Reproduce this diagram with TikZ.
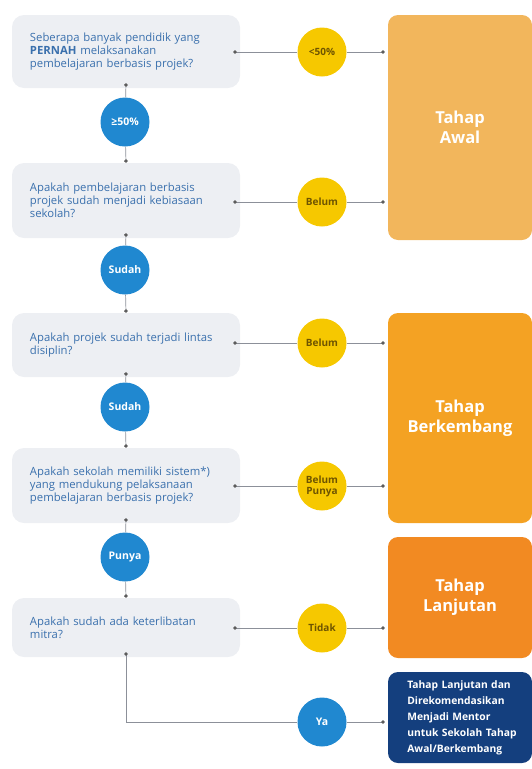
\documentclass[tikz,border=0pt]{standalone}
\usepackage{fontspec}
\setmainfont{Open Sans}
\usepackage{xcolor}
\usetikzlibrary{arrows.meta}

\definecolor{soalisi}{HTML}{EDEFF3}
\definecolor{soalteks}{HTML}{3A70AD}
\definecolor{biru}{HTML}{2088D0}
\definecolor{kuning}{HTML}{F6C800}
\definecolor{kuningteks}{HTML}{6E5400}
\definecolor{awal}{HTML}{F2B65C}
\definecolor{kembang}{HTML}{F4A223}
\definecolor{lanjut}{HTML}{F28A22}
\definecolor{mentor}{HTML}{143F7E}
\definecolor{garis}{HTML}{8C9099}

\begin{document}
\begin{tikzpicture}[x=1pt,y=-1pt,
  soal/.style={fill=soalisi, rounded corners=12pt, text=soalteks, align=left,
    text width=192pt, inner xsep=18pt, minimum width=228pt,
    font=\fontsize{11.3}{12.8}\selectfont},
  bulatbiru/.style={circle, fill=biru, minimum size=49pt, inner sep=0pt,
    text=white, font=\fontsize{10.5}{12}\selectfont\bfseries},
  bulatkuning/.style={circle, fill=kuning, minimum size=49pt, inner sep=0pt,
    text=kuningteks, align=center, font=\fontsize{10}{11}\selectfont\bfseries},
  tahap/.style={rounded corners=10pt, minimum width=144pt, text=white, align=center,
    font=\fontsize{16.5}{20}\selectfont\bfseries},
  lanjutalur/.style={draw=garis, line width=0.7pt, {Circle[length=3.5pt,color=black!65]}-},
  masukalur/.style={draw=garis, line width=0.7pt, -{Circle[length=3.5pt,color=black!65]}}]
\useasboundingbox (0,0) rectangle (532,769);

% pertanyaan
\node[soal, minimum height=73pt] (s1) at (126,51.5) {Seberapa banyak pendidik yang\\ \textbf{PERNAH} melaksanakan\\ pembelajaran berbasis projek?};
\node[soal, minimum height=75pt] (s2) at (126,200.5) {Apakah pembelajaran berbasis\\ projek sudah menjadi kebiasaan\\ sekolah?};
\node[soal, minimum height=64pt] (s3) at (126,345) {Apakah projek sudah terjadi lintas\\ disiplin?};
\node[soal, minimum height=75pt] (s4) at (126,485.5) {Apakah sekolah memiliki sistem*)\\ yang mendukung pelaksanaan\\ pembelajaran berbasis projek?};
\node[soal, minimum height=59pt] (s5) at (126,627.5) {Apakah sudah ada keterlibatan\\ mitra?};

% tahap
\node[tahap, fill=awal, minimum height=225pt] (awal) at (460,127.5) {Tahap\\ Awal};
\node[tahap, fill=kembang, minimum height=210pt] (kembang) at (460,418) {Tahap\\ Berkembang};
\node[tahap, fill=lanjut, minimum height=121pt] (lanjut) at (460,597.5) {Tahap\\ Lanjutan};
\node[tahap, fill=mentor, minimum height=91pt] (mentor) at (460,717.5) {};
\node[anchor=west, align=left, text=white, text width=118pt,
  font=\fontsize{10.3}{16}\selectfont\bfseries] (mentorteks) at ([xshift=16pt]mentor.west)
  {Tahap Lanjutan dan\\ Direkomendasikan\\ Menjadi Mentor\\ untuk Sekolah Tahap\\ Awal/Berkembang};

% jawaban
\node[bulatbiru] (b1) at (125,122) {≥50\%};
\node[bulatbiru] (b2) at (125,270) {Sudah};
\node[bulatbiru] (b3) at (125,407) {Sudah};
\node[bulatbiru] (b4) at (125,557) {Punya};
\node[bulatbiru] (ya) at (322,722) {Ya};

\node[bulatkuning] (k1) at (322,52) {<50\%};
\node[bulatkuning] (k2) at (322,202) {Belum};
\node[bulatkuning] (k3) at (322,343) {Belum};
\node[bulatkuning] (k4) at (322,486) {Belum\\ Punya};
\node[bulatkuning] (k5) at (322,628) {Tidak};

% alur ke bawah
\draw[lanjutalur] ([yshift=5pt]s1.south) -- (b1);
\draw[masukalur] (b1) -- (s2.north);
\draw[lanjutalur] ([yshift=5pt]s2.south) -- (b2);
\draw[masukalur] (b2) -- (s3.north);
\draw[lanjutalur] ([yshift=5pt]s3.south) -- (b3);
\draw[masukalur] (b3) -- (s4.north);
\draw[lanjutalur] ([yshift=5pt]s4.south) -- (b4);
\draw[masukalur] (b4) -- (s5.north);
\draw[lanjutalur] ([yshift=5pt]s5.south) |- (ya);
\draw[masukalur, shorten >=3pt] (ya) -- (mentor.west |- ya);

% alur ke kanan
\draw[lanjutalur] ([xshift=-7pt]s1.east |- k1) -- (k1);
\draw[masukalur, shorten >=3pt] (k1) -- (awal.west |- k1);
\draw[lanjutalur] ([xshift=-7pt]s2.east |- k2) -- (k2);
\draw[masukalur, shorten >=3pt] (k2) -- (awal.west |- k2);
\draw[lanjutalur] ([xshift=-7pt]s3.east |- k3) -- (k3);
\draw[masukalur, shorten >=3pt] (k3) -- (kembang.west |- k3);
\draw[lanjutalur] ([xshift=-7pt]s4.east |- k4) -- (k4);
\draw[masukalur, shorten >=3pt] (k4) -- (kembang.west |- k4);
\draw[lanjutalur] ([xshift=-7pt]s5.east |- k5) -- (k5);
\draw[masukalur, shorten >=3pt] (k5) -- (lanjut.west |- k5);
\end{tikzpicture}
\end{document}
